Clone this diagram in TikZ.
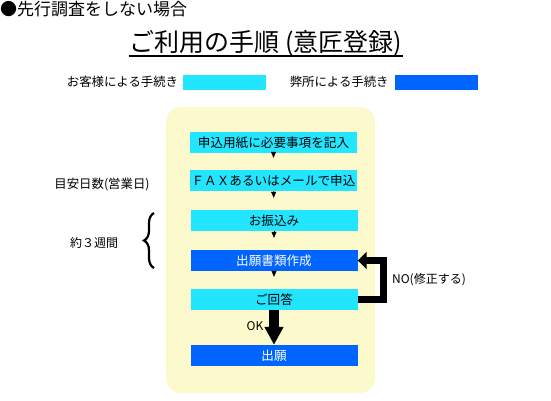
\documentclass[tikz,border=0pt]{standalone}
\usepackage{fontspec}
\setmainfont{Noto Sans CJK JP}
\usepackage{xcolor}
\usetikzlibrary{arrows.meta,positioning,decorations.pathreplacing}

\definecolor{custcyan}{RGB}{34,229,255}
\definecolor{firmblue}{RGB}{0,100,255}
\definecolor{panelyellow}{RGB}{252,249,204}
\newcommand{\jsize}[1]{\fontsize{#1}{#1}\selectfont}

\begin{document}
\begin{tikzpicture}[x=1pt, y=-1pt,
    custbox/.style={fill=custcyan, minimum width=167pt, minimum height=21pt, inner sep=0pt, font=\jsize{12.6}},
    firmbox/.style={custbox, fill=firmblue, text=white},
    legbox/.style={minimum width=83pt, minimum height=15pt, inner sep=0pt},
    tinyarrow/.style={-{Triangle[width=5pt,length=6pt]}, shorten >=12pt},
    plain/.style={font=\jsize{12.4}, inner sep=0pt}]
    \useasboundingbox (0,0) rectangle (551,400);

    % Heading and title
    \node[anchor=west, font=\jsize{17}, inner sep=0pt] (head) at (0,9) {●先行調査をしない場合};
    \node[font=\jsize{25}, inner sep=0pt] (title) at (266,43) {ご利用の手順 (意匠登録)};
    \draw[line width=1.2pt] ([xshift=-1pt,yshift=-5pt]title.base west) -- ([xshift=1pt,yshift=-5pt]title.base east);

    % Legend
    \node[legbox, fill=custcyan] (legcust) at (224,82) {};
    \node[plain, left=4pt of legcust] (legcusttxt) {お客様による手続き};
    \node[legbox, fill=firmblue] (legfirm) at (436.5,82) {};
    \node[plain, left=6pt of legfirm] (legfirmtxt) {弊所による手続き};

    % Panel
    \fill[panelyellow, rounded corners=15pt] (166,107) rectangle (375,393);

    % Steps
    \node[custbox] (apply) at (273.5,142.5) {申込用紙に必要事項を記入};
    \node[custbox] (send) at (273.5,180.5) {ＦＡＸあるいはメールで申込};
    \node[custbox] (pay) at (274,220.5) {お振込み};
    \node[firmbox] (draft) at (274,260.5) {出願書類作成};
    \node[custbox] (reply) at (274,299.5) {ご回答};
    \node[firmbox] (file) at (274,355.5) {出願};

    \draw[tinyarrow] (apply) -- (send);
    \draw[tinyarrow] (send) -- (pay);
    \draw[tinyarrow] (pay) -- (draft);
    \draw[tinyarrow] (draft) -- (reply);

    % OK / NO
    \draw[line width=10pt, -{Triangle[width=18pt,length=18pt]}] (reply) -- (file);
    \node[plain, font=\jsize{12}] (ok) at (255,326) {OK};
    \coordinate (turn) at (383.5,280);
    \draw[line width=7pt, -{Triangle[width=17pt,length=9pt]}] (reply.east) -- (reply.east -| turn) -- (draft.east -| turn) -- (draft.east);
    \node[plain, font=\jsize{12}] (no) at (429,280) {NO(修正する)};

    % Days
    \node[plain] (days) at (102,184) {目安日数(営業日)};
    \node[plain, font=\jsize{12}] (weeks) at (94,243) {約３週間};
    \draw[decorate, decoration={brace, amplitude=10pt}, line width=2.2pt] (154,268) -- (154,213);
\end{tikzpicture}
\end{document}
